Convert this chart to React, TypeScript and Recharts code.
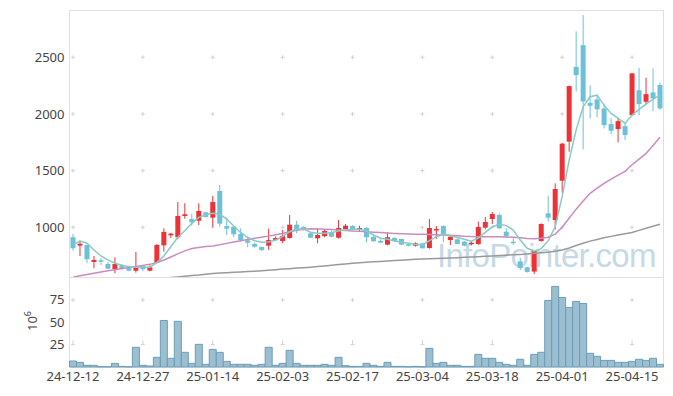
import { Bar, CartesianGrid, ComposedChart, Line, ReferenceArea, XAxis, YAxis } from "recharts";

const dates = [
  "24-12-12", "24-12-13", "24-12-16", "24-12-17", "24-12-18", "24-12-19", "24-12-20", "24-12-23", "24-12-24", "24-12-26",
  "24-12-27", "24-12-30", "25-01-02", "25-01-03", "25-01-06", "25-01-07", "25-01-08", "25-01-09", "25-01-10", "25-01-13",
  "25-01-14", "25-01-15", "25-01-16", "25-01-17", "25-01-20", "25-01-21", "25-01-22", "25-01-23", "25-01-24", "25-01-31",
  "25-02-03", "25-02-04", "25-02-05", "25-02-06", "25-02-07", "25-02-10", "25-02-11", "25-02-12", "25-02-13", "25-02-14",
  "25-02-17", "25-02-18", "25-02-19", "25-02-20", "25-02-21", "25-02-24", "25-02-25", "25-02-26", "25-02-27", "25-02-28",
  "25-03-04", "25-03-05", "25-03-06", "25-03-07", "25-03-10", "25-03-11", "25-03-12", "25-03-13", "25-03-14", "25-03-17",
  "25-03-18", "25-03-19", "25-03-20", "25-03-21", "25-03-24", "25-03-25", "25-03-26", "25-03-27", "25-03-28", "25-03-31",
  "25-04-01", "25-04-02", "25-04-03", "25-04-04", "25-04-07", "25-04-08", "25-04-09", "25-04-10", "25-04-11", "25-04-14",
  "25-04-15", "25-04-16", "25-04-17", "25-04-18", "25-04-21",
];

const open = [
  912, 838, 844, 694, 709, 676, 630, 665, 640, 617, 662, 617, 688, 841, 929, 912, 1100, 1073, 1058, 1132,
  1085, 1320, 1011, 1005, 941, 885, 853, 826, 838, 888, 879, 906, 1023, 1003, 947, 903, 923, 959, 908, 985,
  1011, 979, 994, 914, 879, 847, 906, 897, 850, 838, 859, 817, 976, 1011, 888, 894, 873, 853, 853, 997,
  1073, 1108, 961, 873, 700, 647, 609, 879, 1123, 1064, 1411, 1756, 2416, 2607, 2099, 2129, 2049, 1911, 1867, 1893,
  1990, 2210, 2108, 2190, 2255,
];
const high = [
  941, 882, 846, 747, 727, 694, 735, 676, 650, 782, 668, 665, 853, 991, 950, 1223, 1212, 1120, 1212, 1138,
  1276, 1373, 1085, 1010, 991, 917, 865, 830, 988, 920, 976, 1108, 1058, 1008, 950, 991, 982, 970, 1064, 1029,
  1017, 1014, 1000, 935, 894, 956, 910, 900, 859, 868, 862, 1073, 1011, 1017, 932, 900, 880, 876, 1050, 1091,
  1135, 1123, 991, 903, 732, 650, 795, 1035, 1279, 1388, 1745, 2250, 2730, 2872, 2252, 2166, 2087, 1961, 1967, 1917,
  2362, 2407, 2319, 2402, 2278,
];
const low = [
  794, 747, 683, 638, 668, 630, 594, 625, 612, 600, 612, 612, 683, 785, 906, 894, 1076, 1015, 1020, 1085,
  1005, 1005, 932, 914, 873, 824, 820, 791, 800, 880, 859, 900, 947, 970, 905, 859, 912, 912, 900, 976,
  979, 965, 868, 873, 860, 841, 870, 845, 832, 830, 812, 812, 897, 868, 844, 850, 832, 841, 844, 982,
  1029, 988, 903, 844, 623, 600, 588, 873, 1050, 980, 1305, 1667, 2200, 1688, 1960, 1970, 1873, 1823, 1749, 1770,
  1985, 1990, 2085, 2025, 2034,
];
const close = [
  815, 855, 718, 712, 700, 635, 676, 635, 617, 659, 630, 647, 844, 959, 944, 1100, 1115, 1044, 1144, 1091,
  1223, 1032, 988, 938, 888, 864, 829, 800, 888, 906, 923, 1023, 982, 976, 908, 932, 967, 917, 994, 1014,
  982, 994, 912, 877, 864, 912, 877, 847, 841, 859, 815, 994, 985, 932, 917, 853, 838, 864, 1003, 1047,
  1117, 991, 923, 867, 641, 606, 791, 1029, 1085, 1338, 1738, 2246, 2343, 2110, 2072, 2041, 1902, 1852, 1937, 1814,
  2358, 2087, 2175, 2137, 2049,
];

const ma5 = [
  845, 879, 859, 800, 747, 712, 683, 665, 653, 647, 647, 647, 688, 747, 829, 912, 970, 1035, 1088, 1111,
  1123, 1115, 1073, 1011, 952, 912, 882, 868, 870, 888, 917, 961, 985, 985, 956, 947, 947, 952, 967, 976,
  982, 982, 967, 932, 903, 894, 882, 868, 859, 850, 844, 882, 917, 938, 925, 910, 895, 878, 905, 955,
  1005, 1027, 1015, 976, 888, 815, 790, 812, 880, 1005, 1270, 1593, 1858, 2063, 2152, 2166, 2078, 2005, 1961, 1917,
  1990, 2040, 2087, 2129, 2166,
];
const ma20 = [
  560, 572, 583, 594, 605, 616, 626, 636, 646, 655, 664, 673, 690, 712, 738, 765, 792, 812, 822, 830,
  836, 846, 858, 870, 882, 893, 903, 912, 922, 934, 946, 960, 974, 982, 987, 986, 983, 980, 976, 972,
  968, 964, 960, 956, 953, 949, 946, 943, 941, 939, 938, 937, 935, 932, 929, 926, 921, 918, 917, 917,
  917, 916, 914, 912, 907, 901, 900, 903, 913, 940, 1000, 1080, 1160, 1232, 1300, 1345, 1388, 1425, 1460, 1494,
  1552, 1602, 1652, 1722, 1794,
];
const ma60 = [
  null, null, null, null, null, null, null, null, null, null, null, null, null, 548, 556, 562, 568, 574, 579, 586,
  592, 596, 600, 603, 606, 609, 613, 617, 621, 626, 631, 635, 640, 644, 648, 653, 659, 665, 671, 677,
  683, 687, 691, 695, 699, 703, 706, 710, 713, 717, 720, 722, 725, 727, 730, 732, 735, 738, 741, 744,
  747, 751, 754, 758, 761, 765, 770, 775, 780, 788, 800, 818, 840, 860, 878, 893, 908, 920, 932, 943,
  955, 973, 992, 1010, 1026,
];

// 거래량 (백만주)
const volume = [
  6.7, 5.2, 1.9, 1.9, 0.3, 0.3, 4.1, 0.7, 0.2, 22, 1.9, 1.1, 10.8, 52, 9.7, 51, 16.4, 4.1, 25.3, 3,
  19.7, 16.4, 6.3, 3, 3, 3, 1.9, 3, 22, 1.9, 4.1, 18.6, 4.1, 1.9, 1.9, 1.9, 3, 1.9, 10.8, 1.5,
  0.7, 0.7, 4.1, 1.9, 0.7, 5.2, 0.7, 0.7, 0.3, 0.7, 0.3, 20.8, 4.1, 5.2, 1.9, 1.9, 0.7, 0.7, 14.1, 9.7,
  9.7, 5.2, 3, 1.9, 8.6, 1.9, 14.1, 16.4, 74.4, 90, 77.7, 66.6, 73.3, 71, 15.3, 11.9, 7.4, 7.4, 5.2, 5.2,
  6.3, 8.6, 7.4, 9.7, 3,
];

const priceTicks = [1000, 1500, 2000, 2500];
const volTicks = [25, 50, 75];

const UP = "#ec3237";
const DOWN = "#6cc1d8";
const GRID = "#d2d2d2";
const BORDER = "#e0e0e0";
const TICK = { fontSize: 13, fill: "#444" };

const rows = dates.map((date, i) => ({
  date,
  open: open[i],
  high: high[i],
  low: low[i],
  close: close[i],
  ma5: ma5[i],
  ma20: ma20[i],
  ma60: ma60[i],
  vol: volume[i],
}));

function Candle(props: any) {
  const { x, y, width, height, payload } = props;
  const { open: o, close: c, high: h, low: l } = payload;
  const color = c >= o ? UP : DOWN;
  const k = height / (h - l || 1);
  const top = y + (h - Math.max(o, c)) * k;
  const bot = y + (h - Math.min(o, c)) * k;
  const cx = x + width / 2;
  return (
    <g>
      <line x1={cx} x2={cx} y1={y} y2={y + height} stroke={color} strokeWidth={1} />
      <rect x={x} y={top} width={width} height={Math.max(bot - top, 1.5)} fill={color} />
    </g>
  );
}

// the price panel keeps its x ticks (for the grid) but draws no labels
const NoTick = () => <g />;

export default function App() {
  return (
    <div
      style={{
        position: "absolute",
        left: 0,
        top: 0,
        width: 673,
        height: 396,
        background: "#fff",
        fontFamily: "'Noto Sans', sans-serif",
      }}
    >
      <svg width={673} height={396} style={{ position: "absolute", left: 0, top: 0 }}>
        <text
          x={437}
          y={267}
          fontFamily="'Liberation Sans', Arial, sans-serif"
          fontSize={33}
          letterSpacing={-0.7}
          fill="#c6d9e6"
        >
          InfoPointer.com
        </text>
        <text transform="translate(37,321) rotate(-90)" textAnchor="middle" fontSize={13} fill="#444">
          10<tspan dy={-6} fontSize={9}>6</tspan>
        </text>
      </svg>

      <div style={{ position: "absolute", left: 0, top: 0 }}>
        <ComposedChart
          width={673}
          height={278}
          data={rows}
          margin={{ top: 10.5, right: 9.5, bottom: 0.5, left: 9.5 }}
          barCategoryGap={1}
        >
          <ReferenceArea y1={557} y2={2913} fill="none" stroke={BORDER} strokeWidth={1} />
          <CartesianGrid vertical={false} stroke={GRID} strokeDasharray="0 1.5 4 64.38" />
          <CartesianGrid horizontal={false} stroke={GRID} strokeDasharray="0 44.8 4 7.87" />
          <XAxis dataKey="date" interval={9} tick={NoTick} tickLine={false} axisLine={false} height={0} />
          <YAxis
            domain={[557, 2913]}
            ticks={priceTicks}
            allowDataOverflow
            width={60}
            axisLine={false}
            tickLine={false}
            tickSize={3}
            tickMargin={2}
            tick={TICK}
          />
          <Bar dataKey={(d: any) => [d.low, d.high]} shape={<Candle />} isAnimationActive={false} />
          <Line dataKey="ma60" type="linear" stroke="#9a9a9a" strokeWidth={1.5} dot={false} isAnimationActive={false} />
          <Line dataKey="ma20" type="linear" stroke="#c98bc2" strokeWidth={1.5} dot={false} isAnimationActive={false} />
          <Line dataKey="ma5" type="linear" stroke="#88cbc2" strokeWidth={1.5} dot={false} isAnimationActive={false} />
        </ComposedChart>
      </div>

      <div style={{ position: "absolute", left: 0, top: 277 }}>
        <ComposedChart
          width={673}
          height={119}
          data={rows}
          margin={{ top: 0.5, right: 9.5, bottom: 0, left: 9.5 }}
          barCategoryGap={0}
        >
          <ReferenceArea y1={0} y2={100} fill="none" stroke={BORDER} strokeWidth={1} />
          <CartesianGrid vertical={false} stroke={GRID} strokeDasharray="0 1.5 4 64.38" />
          <CartesianGrid horizontal={false} stroke={GRID} strokeDasharray="0 20.4 4 18" />
          <XAxis
            dataKey="date"
            interval={9}
            tickLine={false}
            axisLine={false}
            tickSize={3}
            tickMargin={2}
            height={29}
            tick={TICK}
          />
          <YAxis
            domain={[0, 100]}
            ticks={volTicks}
            width={60}
            axisLine={false}
            tickLine={false}
            tickSize={3}
            tickMargin={2}
            tick={TICK}
          />
          <Bar dataKey="vol" fill="#9bbfd0" stroke="#6c9db6" strokeWidth={1} isAnimationActive={false} />
        </ComposedChart>
      </div>
    </div>
  );
}
